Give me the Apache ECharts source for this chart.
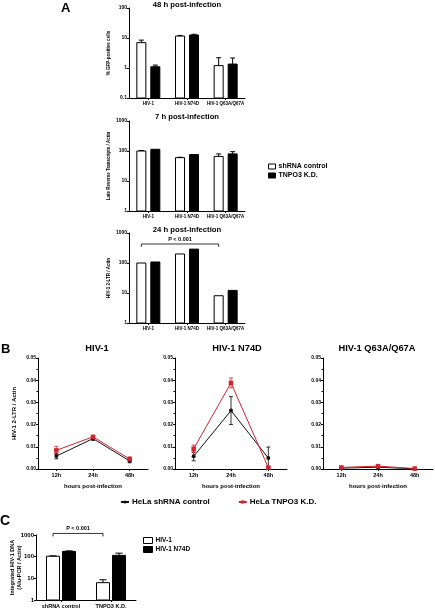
<!DOCTYPE html>
<html><head><meta charset="utf-8">
<script src="https://cdn.jsdelivr.net/npm/echarts@6/dist/echarts.min.js"></script>
<style>html,body{margin:0;padding:0;background:#fff}#c{width:435px;height:609px}</style>
</head><body><div id="c"></div>
<script>
// ---------- data ----------
const aCategories = ['HIV-1', 'HIV-1 N74D', 'HIV-1 Q63A/Q67A'];
const a48Ctrl = [7.0, 11.6, 1.2];
const a48CtrlErr = [1.5, 0.6, 1.0];
const a48KD = [1.1, 12.6, 1.35];
const a48KDErr = [0.15, 0.7, 0.8];
const a7Ctrl = [100, 60, 66];
const a7CtrlErr = [4, 2, 14];
const a7KD = [114, 76, 80];
const a7KDErr = [0, 0, 15];
const a24Ctrl = [100, 200, 8.1];
const a24KD = [108, 290, 12.2];
const timeLabels = ['12h', '24h', '48h'];
const bWtCtrl = [0.0058, 0.0137, 0.0036];
const bWtCtrlErr = [0.0012, 0.0008, 0.0008];
const bWtKD = [0.0084, 0.0145, 0.0045];
const bWtKDErr = [0.0018, 0.0006, 0.0009];
const bN74DCtrl = [0.0057, 0.0263, 0.0049];
const bN74DCtrlErr = [0.0020, 0.0063, 0.0050];
const bN74DKD = [0.0091, 0.0388, 0.0006];
const bN74DKDErr = [0.0017, 0.0022, 0.0005];
const bQCtrl = [0.0004, 0.0008, 0.0001];
const bQCtrlErr = [0.0002, 0.0003, 0];
const bQKD = [0.0007, 0.0013, 0.0002];
const bQKDErr = [0.0003, 0.0004, 0];
const cCategories = ['shRNA control', 'TNPO3 K.D.'];
const cWt = [105, 6.3];
const cWtErr = [4, 2.3];
const cN74D = [175, 115];
const cN74DErr = [10, 30];

// ---------- helpers ----------
const FF = '"Liberation Sans", Arial, sans-serif';
const RED = '#d3232e';
const chart = echarts.init(document.getElementById('c'), null, {renderer: 'canvas'});

function rows(vals, errs) { return vals.map((v, i) => [i, v, errs ? errs[i] : 0]); }

function barSeries(name, gi, vals, errs, offset, bw, minVal, fill) {
  return {
    type: 'custom', name: name, xAxisIndex: gi, yAxisIndex: gi,
    itemStyle: {color: fill, borderColor: '#000', borderWidth: 1},
    encode: {x: 0, y: 1},
    data: rows(vals, errs),
    renderItem: function (params, api) {
      const c = api.value(0), v = api.value(1), e = api.value(2);
      const p0 = api.coord([c, minVal]);
      const p1 = api.coord([c, v]);
      const x = p0[0] + offset;
      const ch = [{type: 'rect', shape: {x: x - bw / 2, y: p1[1], width: bw, height: p0[1] - p1[1]},
        style: {fill: fill, stroke: '#000', lineWidth: 1}}];
      if (e > 0) {
        const p2 = api.coord([c, v + e]);
        const cw = bw * 0.55;
        ch.push({type: 'line', shape: {x1: x, y1: p1[1], x2: x, y2: p2[1]}, style: {stroke: '#000', lineWidth: 1}});
        ch.push({type: 'line', shape: {x1: x - cw / 2, y1: p2[1], x2: x + cw / 2, y2: p2[1]}, style: {stroke: '#000', lineWidth: 1}});
      }
      return {type: 'group', children: ch};
    }
  };
}

function errSeries(gi, vals, errs, color) {
  return {
    type: 'custom', xAxisIndex: gi, yAxisIndex: gi, encode: {x: 0, y: 1}, z: 1,
    data: rows(vals, errs),
    renderItem: function (params, api) {
      const c = api.value(0), v = api.value(1), e = api.value(2);
      if (!(e > 0)) return;
      const pt = api.coord([c, v + e]), pb = api.coord([c, Math.max(0, v - e)]);
      const x = pt[0], cw = 4;
      const st = {stroke: color, lineWidth: 0.8};
      return {type: 'group', children: [
        {type: 'line', shape: {x1: x, y1: pt[1], x2: x, y2: pb[1]}, style: st},
        {type: 'line', shape: {x1: x - cw / 2, y1: pt[1], x2: x + cw / 2, y2: pt[1]}, style: st},
        {type: 'line', shape: {x1: x - cw / 2, y1: pb[1], x2: x + cw / 2, y2: pb[1]}, style: st}
      ]};
    }
  };
}

function lineSeries(name, gi, vals, color, symbol, size) {
  return {
    type: 'line', name: name, xAxisIndex: gi, yAxisIndex: gi, data: vals, z: 3,
    symbol: symbol, symbolSize: size, showSymbol: true,
    lineStyle: {color: color, width: 1}, itemStyle: {color: color}
  };
}

function bracketSeries(gi, fromCat, toCat, offset, yVal, label) {
  return {
    type: 'custom', xAxisIndex: gi, yAxisIndex: gi, encode: {x: 0, y: 1}, silent: true,
    data: [[fromCat, yVal, toCat]],
    renderItem: function (params, api) {
      const a = api.coord([api.value(0), api.value(1)]);
      const b = api.coord([api.value(2), api.value(1)]);
      const x1 = a[0] + offset, x2 = b[0] + offset, y = a[1];
      return {type: 'group', children: [
        {type: 'polyline', shape: {points: [[x1, y + 3], [x1, y], [x2, y], [x2, y + 3]]}, style: {stroke: '#000', lineWidth: 0.8, fill: null}},
        {type: 'text', x: (x1 + x2) / 2, y: y - 1.5, style: {text: label, fill: '#000', font: 'bold 5.5px ' + FF, align: 'center', verticalAlign: 'bottom'}}
      ]};
    }
  };
}

function catAxis(gi, data, fs, extra) {
  return Object.assign({
    type: 'category', gridIndex: gi, data: data,
    axisLine: {lineStyle: {color: '#000', width: 1}},
    axisTick: {show: true, alignWithLabel: true, length: 2, lineStyle: {color: '#000'}},
    axisLabel: {interval: 0, fontSize: fs, fontWeight: 'bold', color: '#000', margin: 3, fontFamily: FF},
    splitLine: {show: false}
  }, extra || {});
}

function logAxis(gi, min, max, name, fs, nameFs, gap) {
  return {
    type: 'log', logBase: 10, gridIndex: gi, min: min, max: max,
    name: name, nameLocation: 'middle', nameGap: gap, nameMoveOverlap: false,
    nameTextStyle: {fontSize: nameFs, fontWeight: 'bold', color: '#000', fontFamily: FF, lineHeight: nameFs * 1.25},
    axisLine: {show: true, lineStyle: {color: '#000', width: 1}},
    axisTick: {show: true, length: 2, lineStyle: {color: '#000'}},
    axisLabel: {fontSize: fs, fontWeight: 'bold', color: '#000', margin: 2, fontFamily: FF,
      formatter: v => String(+(+v).toPrecision(6))},
    splitLine: {show: false}
  };
}

function linAxis(gi, showName) {
  return {
    type: 'value', gridIndex: gi, min: 0, max: 0.05, interval: 0.01,
    name: showName ? 'HIV-1 2-LTR / Actin' : '', nameLocation: 'middle', nameGap: 21, nameMoveOverlap: false,
    nameTextStyle: {fontSize: 6, fontWeight: 'bold', color: '#000', fontFamily: FF},
    axisLine: {show: true, lineStyle: {color: '#000', width: 1}},
    axisTick: {show: true, length: 2, lineStyle: {color: '#000'}},
    minorTick: {show: true, splitNumber: 2, length: 1.5, lineStyle: {color: '#000'}},
    axisLabel: {fontSize: 5, fontWeight: 'bold', color: '#000', margin: 2, fontFamily: FF, formatter: v => v.toFixed(2)},
    splitLine: {show: false}
  };
}

function txt(text, x, y, size, align) {
  return {type: 'text', x: x, y: y, style: {text: text, fill: '#000', font: 'bold ' + size + 'px ' + FF, align: align || 'center', verticalAlign: 'middle'}};
}

const grids = [
  {left: 129, top: 8, width: 116, height: 90},
  {left: 129, top: 121, width: 116, height: 90},
  {left: 129, top: 233, width: 116, height: 90},
  {left: 38, top: 358, width: 110, height: 111},
  {left: 175, top: 358, width: 112, height: 111},
  {left: 323, top: 358, width: 110, height: 111},
  {left: 36, top: 535, width: 100, height: 69}
];

const hpName = {name: 'hours post-infection', nameLocation: 'middle', nameGap: 14, nameMoveOverlap: false,
  nameTextStyle: {fontSize: 6, fontWeight: 'bold', color: '#000', fontFamily: FF}};
const xAxes = [
  catAxis(0, aCategories, 4.5), catAxis(1, aCategories, 4.5), catAxis(2, aCategories, 4.5),
  catAxis(3, timeLabels, 5.5, hpName),
  catAxis(4, timeLabels, 5.5, hpName),
  catAxis(5, timeLabels, 5.5, hpName),
  catAxis(6, cCategories, 5.5)
];
const yAxes = [
  logAxis(0, 0.1, 100, '% GFP-positive cells', 5, 4.5, 17.5),
  logAxis(1, 1, 1000, 'Late Reverse Transcripts / Actin', 5, 4.5, 17.5),
  logAxis(2, 1, 1000, 'HIV-1 2-LTR / Actin', 5, 4.5, 17.5),
  linAxis(3, true), linAxis(4, false), linAxis(5, false),
  logAxis(6, 1, 1000, 'Integrated HIV-1 DNA\n(Alu-PCR / Actin)', 6, 5.5, 13.5)
];

const BWA = 9, OFFA = 7, BWC = 13, OFFC = 8;
const series = [
  barSeries('shRNA control', 0, a48Ctrl, a48CtrlErr, -OFFA, BWA, 0.1, '#fff'),
  barSeries('TNPO3 K.D.', 0, a48KD, a48KDErr, OFFA, BWA, 0.1, '#000'),
  barSeries('shRNA control', 1, a7Ctrl, a7CtrlErr, -OFFA, BWA, 1, '#fff'),
  barSeries('TNPO3 K.D.', 1, a7KD, a7KDErr, OFFA, BWA, 1, '#000'),
  barSeries('shRNA control', 2, a24Ctrl, null, -OFFA, BWA, 1, '#fff'),
  barSeries('TNPO3 K.D.', 2, a24KD, null, OFFA, BWA, 1, '#000'),
  bracketSeries(2, 0, 2, -OFFA, 430, 'P < 0.001'),
  errSeries(3, bWtCtrl, bWtCtrlErr, '#000'), errSeries(3, bWtKD, bWtKDErr, RED),
  lineSeries('HeLa shRNA control', 3, bWtCtrl, '#111', 'circle', 4),
  lineSeries('HeLa TNPO3 K.D.', 3, bWtKD, RED, 'rect', 4.5),
  errSeries(4, bN74DCtrl, bN74DCtrlErr, '#000'), errSeries(4, bN74DKD, bN74DKDErr, RED),
  lineSeries('HeLa shRNA control', 4, bN74DCtrl, '#111', 'circle', 4),
  lineSeries('HeLa TNPO3 K.D.', 4, bN74DKD, RED, 'rect', 4.5),
  errSeries(5, bQCtrl, bQCtrlErr, '#000'), errSeries(5, bQKD, bQKDErr, RED),
  lineSeries('HeLa shRNA control', 5, bQCtrl, '#111', 'circle', 4),
  lineSeries('HeLa TNPO3 K.D.', 5, bQKD, RED, 'rect', 4.5),
  barSeries('HIV-1', 6, cWt, cWtErr, -OFFC, BWC, 1, '#fff'),
  barSeries('HIV-1 N74D', 6, cN74D, cN74DErr, OFFC, BWC, 1, '#000'),
  bracketSeries(6, 0, 1, -OFFC, 1180, 'P < 0.001')
];

const legTxt = (fs) => ({fontSize: fs, fontWeight: 'bold', color: '#000', fontFamily: FF, padding: [0, 0, 0, -2]});
const legends = [
  {left: 268, top: 163, orient: 'vertical', itemWidth: 7, itemHeight: 5, itemGap: 2, padding: 0, selectedMode: false,
    textStyle: legTxt(7),
    data: [{name: 'shRNA control', icon: 'rect', itemStyle: {color: '#fff', borderColor: '#000', borderWidth: 1}},
           {name: 'TNPO3 K.D.', icon: 'rect', itemStyle: {color: '#000', borderColor: '#000', borderWidth: 1}}]},
  {left: 120, top: 498, orient: 'horizontal', itemWidth: 8, itemHeight: 4, itemGap: 28, padding: 0, selectedMode: false,
    textStyle: legTxt(8),
    data: ['HeLa shRNA control', 'HeLa TNPO3 K.D.']},
  {left: 143, top: 537, orient: 'vertical', itemWidth: 9, itemHeight: 6, itemGap: 2, padding: 0, selectedMode: false,
    textStyle: legTxt(6.5),
    data: [{name: 'HIV-1', icon: 'rect', itemStyle: {color: '#fff', borderColor: '#000', borderWidth: 1}},
           {name: 'HIV-1 N74D', icon: 'rect', itemStyle: {color: '#000', borderColor: '#000', borderWidth: 1}}]}
];

const graphics = [
  txt('A', 61, 8, 13, 'left'),
  txt('48 h post-infection', 187, 5, 7.7),
  txt('7 h post-infection', 187, 117, 7.7),
  txt('24 h post-infection', 187, 230, 7.7),
  txt('B', 1, 349, 13, 'left'),
  txt('HIV-1', 97, 348, 9.3),
  txt('HIV-1 N74D', 237, 348, 9.3),
  txt('HIV-1 Q63A/Q67A', 377, 348, 9.3),
  txt('C', 0, 521, 14, 'left')
];

chart.setOption({
  animation: false,
  backgroundColor: '#fff',
  textStyle: {fontFamily: FF},
  grid: grids, xAxis: xAxes, yAxis: yAxes, series: series, legend: legends,
  graphic: graphics
});
</script></body></html>
